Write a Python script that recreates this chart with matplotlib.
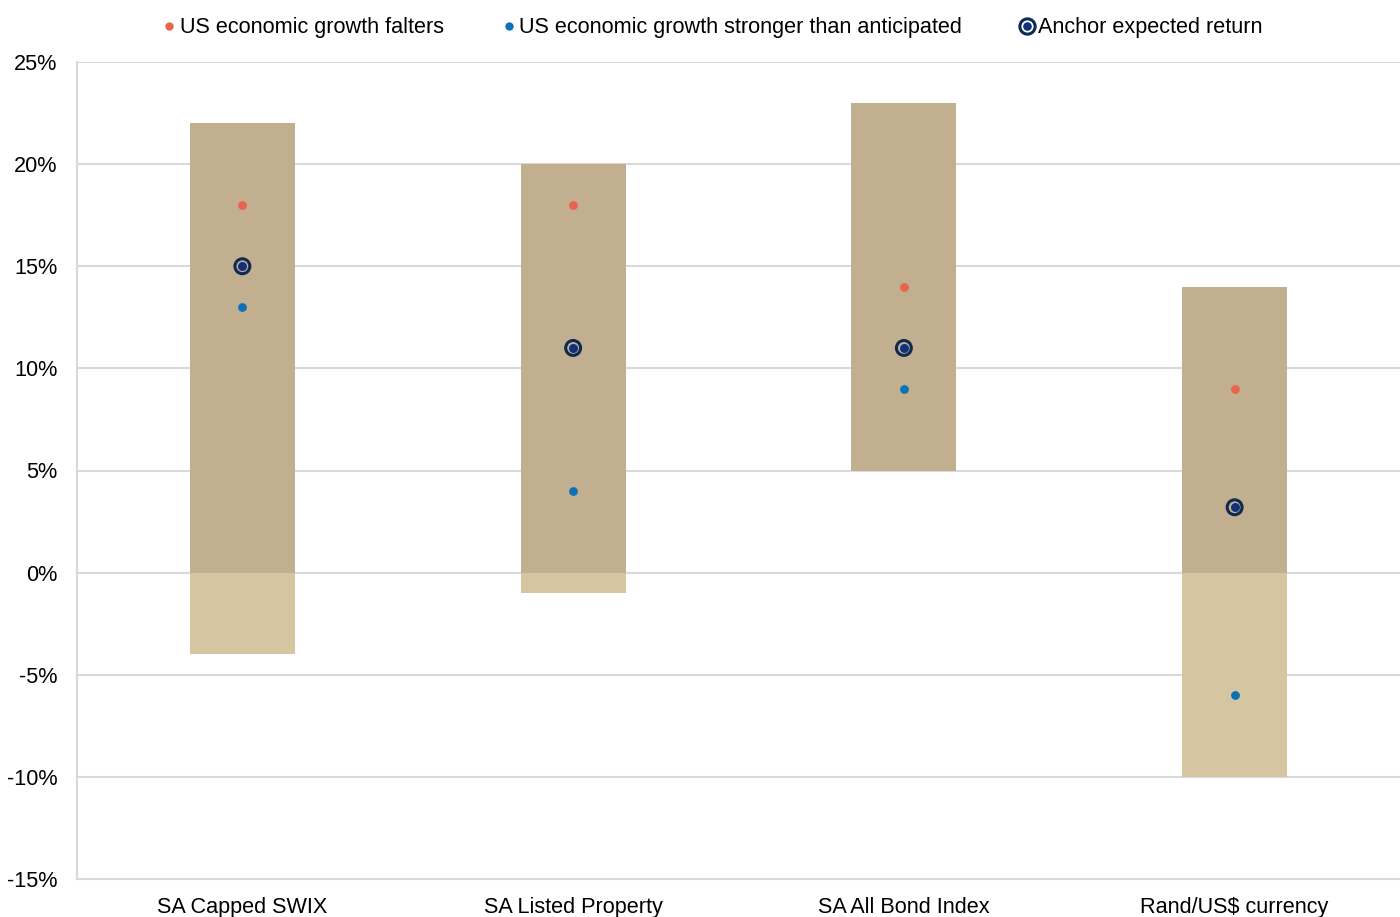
import matplotlib
matplotlib.use("Agg")
import matplotlib.pyplot as plt
from matplotlib.lines import Line2D
import numpy as np

plt.rcParams['font.family'] = ['Liberation Sans', 'DejaVu Sans']

categories = ["SA Capped SWIX", "SA Listed Property", "SA All Bond Index", "Rand/US$ currency"]
range_low = [-4, -1, 5, -10]
range_high = [22, 20, 23, 14]
falters = [18, 18, 14, 9]
stronger = [13, 4, 9, -6]
anchor = [15, 11, 11, 3.2]
yticks = [-15, -10, -5, 0, 5, 10, 15, 20, 25]

c_pos = "#C2AF8F"
c_neg = "#D5C6A1"
c_red = "#E8644C"
c_blue = "#0A72B5"
c_navy = "#0C2A52"
c_inner = "#13307A"
c_grid = "#D9D9D9"
FS = 15.6

fig = plt.figure(figsize=(14, 9.17), dpi=100)
ax = fig.add_axes([77/1400, 38/917, 1 - 77/1400, (879-62)/917])

x = np.arange(len(categories))
lo = np.array(range_low, dtype=float)
hi = np.array(range_high, dtype=float)
pos_bottom = np.maximum(lo, 0)
pos_height = hi - pos_bottom
neg_bottom = lo
neg_height = np.minimum(hi, 0) - lo
w = 0.318
ax.bar(x, pos_height, bottom=pos_bottom, width=w, color=c_pos, zorder=2)
ax.bar(x, np.where(neg_height > 0, neg_height, 0), bottom=neg_bottom, width=w, color=c_neg, zorder=2)

ax.scatter(x, falters, s=40, color=c_red, zorder=4, linewidths=0)
ax.scatter(x, stronger, s=40, color=c_blue, zorder=4, linewidths=0)
ax.scatter(x, anchor, s=115, facecolor="none", edgecolor=c_navy, linewidths=2.2, zorder=4)
ax.scatter(x, anchor, s=42, color=c_inner, zorder=5, linewidths=0)

ax.set_xlim(-0.5, len(categories) - 0.5)
ax.set_ylim(-15, 25)
ax.set_yticks(yticks)
ax.set_yticklabels([f"{v}%" for v in yticks])
ax.set_xticks(x)
ax.set_xticklabels(categories)
ax.tick_params(axis='both', length=0, labelsize=FS, colors="black")
ax.tick_params(axis='y', pad=14)
ax.tick_params(axis='x', pad=13)
ax.grid(axis='y', color=c_grid, linewidth=1.5, zorder=0)
ax.set_axisbelow(True)
for s in ['top', 'right']:
    ax.spines[s].set_visible(False)
for s in ['left', 'bottom']:
    ax.spines[s].set_color(c_grid)
    ax.spines[s].set_linewidth(1.5)

handles = [
    Line2D([], [], marker='o', linestyle='none', markersize=6, markerfacecolor=c_red, markeredgewidth=0),
    Line2D([], [], marker='o', linestyle='none', markersize=6, markerfacecolor=c_blue, markeredgewidth=0),
    (Line2D([], [], marker='o', linestyle='none', markersize=11, markerfacecolor='none', markeredgecolor=c_navy, markeredgewidth=2.2),
     Line2D([], [], marker='o', linestyle='none', markersize=6.2, markerfacecolor=c_inner, markeredgewidth=0)),
]
labels = ["US economic growth falters", "US economic growth stronger than anticipated", "Anchor expected return"]
fig.legend(handles, labels, loc='center', bbox_to_anchor=(713/1400, 1 - 28/917), ncol=3,
           frameon=False, fontsize=FS, handlelength=0.5, handletextpad=0.25, columnspacing=2.75)

fig.savefig("out.png", dpi=100)
